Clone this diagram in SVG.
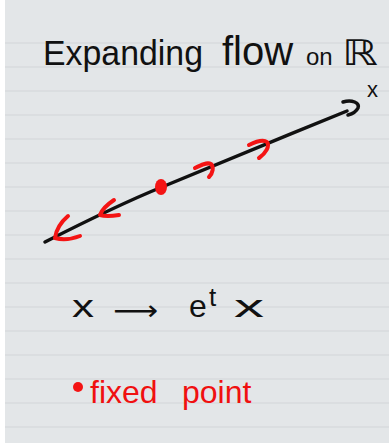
<svg xmlns="http://www.w3.org/2000/svg" width="389" height="444" viewBox="0 0 389 444">
  <style>
    .ink { font-family: "Liberation Sans", "DejaVu Sans", sans-serif; fill: #111; }
    .red { font-family: "Liberation Sans", "DejaVu Sans", sans-serif; fill: #f01010; }
    .rule { stroke: #d2d5d8; stroke-width: 1; }
    .stroke { fill: none; stroke: #111; stroke-width: 3.5; stroke-linecap: round; stroke-linejoin: round; }
    .flow { fill: none; stroke: #f41414; stroke-width: 4; stroke-linecap: round; stroke-linejoin: round; }
  </style>
  <g id="paper">
    <rect x="0" y="0" width="389" height="444" fill="#ffffff"/>
    <rect x="5" y="0" width="384" height="443" fill="#e3e6e8"/>
    <g class="rule">
      <line x1="5" y1="43" x2="389" y2="43"/>
      <line x1="5" y1="67" x2="389" y2="67"/>
      <line x1="5" y1="91" x2="389" y2="91"/>
      <line x1="5" y1="115" x2="389" y2="115"/>
      <line x1="5" y1="139" x2="389" y2="139"/>
      <line x1="5" y1="163" x2="389" y2="163"/>
      <line x1="5" y1="187" x2="389" y2="187"/>
      <line x1="5" y1="211" x2="389" y2="211"/>
      <line x1="5" y1="235" x2="389" y2="235"/>
      <line x1="5" y1="259" x2="389" y2="259"/>
      <line x1="5" y1="283" x2="389" y2="283"/>
      <line x1="5" y1="307" x2="389" y2="307"/>
      <line x1="5" y1="331" x2="389" y2="331"/>
      <line x1="5" y1="355" x2="389" y2="355"/>
      <line x1="5" y1="379" x2="389" y2="379"/>
      <line x1="5" y1="403" x2="389" y2="403"/>
      <line x1="5" y1="427" x2="389" y2="427"/>
    </g>
  </g>
  <g id="title">
    <text class="ink" y="65" font-size="35">
      <tspan x="43" textLength="160" lengthAdjust="spacingAndGlyphs">Expanding</tspan>
      <tspan x="222" font-size="40">flow</tspan>
      <tspan x="306" font-size="24">on</tspan>
      <tspan x="342" textLength="36" lengthAdjust="spacingAndGlyphs">ℝ</tspan>
    </text>
  </g>
  <g id="connectors">
    <path class="stroke" d="M45,242 C100,214 130,200 162,187 S280,138 347,111"/>
    <path class="stroke" d="M343,102 C352,99 360,103 358,108 C356,112 352,114 348,115"/>
  </g>
  <g id="axis-label">
    <text class="ink" x="367" y="97" font-size="22">x</text>
  </g>
  <g id="flow-arrows">
    <path class="flow" d="M195,168 C201,165 207,162 211,164 C214,167 213,173 209,177"/>
    <path class="flow" d="M249,145 C255,142 263,139 267,142 C270,146 266,153 259,158"/>
    <path class="flow" d="M114,200 C108,204 102,209 100,215 C106,217 113,216 119,215"/>
    <path class="flow" d="M68,216 C61,222 56,230 55,238 C62,240 72,239 80,236"/>
  </g>
  <g id="fixed-point">
    <ellipse cx="161" cy="187" rx="6" ry="8" fill="#f41414"/>
  </g>
  <g id="formula">
    <text class="ink" x="72" y="317" font-size="32" textLength="22" lengthAdjust="spacingAndGlyphs">x</text>
    <text class="ink" x="113" y="320" font-size="28" textLength="45" lengthAdjust="spacingAndGlyphs">⟶</text>
    <text class="ink" x="189" y="317" font-size="32">e</text>
    <text class="ink" x="209" y="306" font-size="26">t</text>
    <text class="ink" x="234" y="317" font-size="32" textLength="30" lengthAdjust="spacingAndGlyphs">x</text>
  </g>
  <g id="legend">
    <circle cx="78" cy="387" r="5" fill="#f41414"/>
    <text class="red" y="403" font-size="32">
      <tspan x="90">fixed</tspan>
      <tspan x="182">point</tspan>
    </text>
  </g>
</svg>
